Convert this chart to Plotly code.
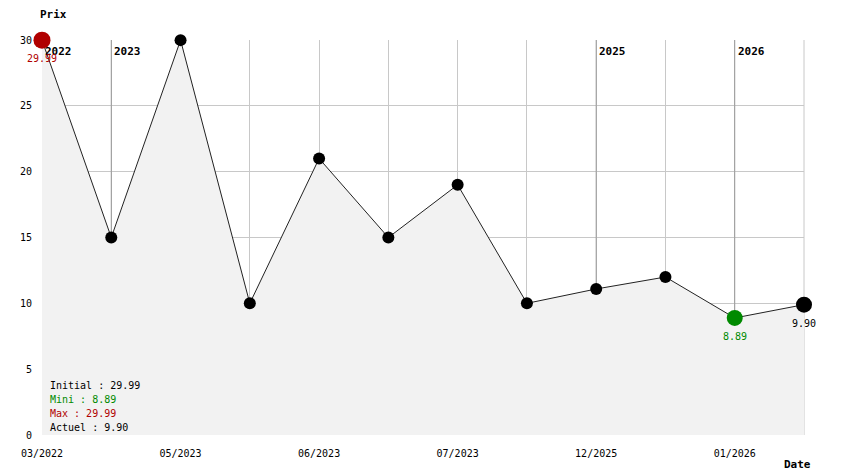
import plotly.graph_objects as go

dates = ["03/2022", "", "05/2023", "", "06/2023", "", "07/2023", "", "12/2025", "", "01/2026", ""]
prices = [29.99, 15.0, 29.99, 10.0, 21.0, 15.0, 19.0, 10.0, 11.09, 12.0, 8.89, 9.90]
years = ["2022", "2023", "2025", "2026"]
year_idx = [0, 1, 8, 10]
initial, mini, maxi, actuel = 29.99, 8.89, 29.99, 9.90
min_idx = 10

x = list(range(len(prices)))
FONT = "DejaVu Sans Mono"
RED = "#b00000"
GREEN = "#008a00"

fig = go.Figure()
# year lines (under the area fill, visible only above the curve)
for yi in year_idx:
    fig.add_trace(go.Scatter(x=[yi, yi], y=[0, 30], mode="lines",
                             line=dict(color="#999999", width=1),
                             hoverinfo="skip", showlegend=False, cliponaxis=False))
# area fill
fig.add_trace(go.Scatter(x=x, y=prices, mode="none", fill="tozeroy",
                         fillcolor="#f2f2f2", hoverinfo="skip", showlegend=False))
# line + markers
sizes = [12] * len(prices)
colors = ["black"] * len(prices)
sizes[0] = 17; colors[0] = RED
sizes[min_idx] = 16; colors[min_idx] = GREEN
sizes[-1] = 16
fig.add_trace(go.Scatter(x=x, y=prices, mode="lines+markers",
                         line=dict(color="#222222", width=1),
                         marker=dict(size=sizes, color=colors, opacity=1, line=dict(width=0)),
                         cliponaxis=False, showlegend=False))

ann = []
for name, yi in zip(years, year_idx):
    ann.append(dict(x=yi, y=30, xref="x", yref="y", text="<b>" + name + "</b>",
                    showarrow=False, xanchor="left", yanchor="top", xshift=1, yshift=-3,
                    font=dict(family=FONT, size=11, color="black")))
ann.append(dict(x=0, y=prices[0], text="%.2f" % prices[0], showarrow=False,
                yshift=-18, font=dict(family=FONT, size=10, color=RED)))
ann.append(dict(x=min_idx, y=prices[min_idx], text="%.2f" % prices[min_idx], showarrow=False,
                yshift=-19, font=dict(family=FONT, size=10, color=GREEN)))
ann.append(dict(x=len(prices) - 1, y=prices[-1], text="%.2f" % prices[-1], showarrow=False,
                yshift=-19, font=dict(family=FONT, size=10, color="black")))
legend_lines = [("Initial : %.2f" % initial, "black"), ("Mini : %.2f" % mini, GREEN),
                ("Max : %.2f" % maxi, RED), ("Actuel : %.2f" % actuel, "black")]
for i, (t, c) in enumerate(legend_lines):
    py = 385 + i * 14.3
    ann.append(dict(x=(46 - 40) / 764, y=(435 - py) / 395, xref="paper", yref="paper",
                    text=t, showarrow=False, xanchor="left", yanchor="middle",
                    font=dict(family=FONT, size=10, color=c)))
ann.append(dict(x=0, y=1, xref="paper", yref="paper", text="<b>Prix</b>", showarrow=False,
                xanchor="left", yanchor="bottom", xshift=-4, yshift=17,
                font=dict(family=FONT, size=11, color="black")))
ann.append(dict(x=1, y=0, xref="paper", yref="paper", text="<b>Date</b>", showarrow=False,
                xanchor="right", yanchor="top", xshift=9, yshift=-21,
                font=dict(family=FONT, size=11, color="black")))

# page body has an 8px margin; size the figure so the plot area lands at 40..804 x 40..435
fig.update_layout(
    width=836, height=466,
    margin=dict(l=32, r=40, t=32, b=39),
    plot_bgcolor="white", paper_bgcolor="white",
    font=dict(family=FONT, size=10, color="black"),
    annotations=ann,
    xaxis=dict(range=[0, 11], tickmode="array", tickvals=x, ticktext=dates,
               showgrid=True, gridcolor="#c8c8c8", gridwidth=1, zeroline=False,
               ticks="outside", ticklen=9, tickcolor="rgba(0,0,0,0)",
               showline=False, fixedrange=True),
    yaxis=dict(range=[0, 30], tickvals=[0, 5, 10, 15, 20, 25, 30],
               showgrid=True, gridcolor="#c8c8c8", gridwidth=1, zeroline=False,
               ticks="outside", ticklen=7, tickcolor="rgba(0,0,0,0)",
               showline=False, fixedrange=True),
    shapes=[dict(type="line", xref="paper", yref="paper", x0=1, x1=1, y0=0, y1=1,
                 line=dict(color="#c8c8c8", width=1), layer="below")],
)
fig.write_html("out.html")
